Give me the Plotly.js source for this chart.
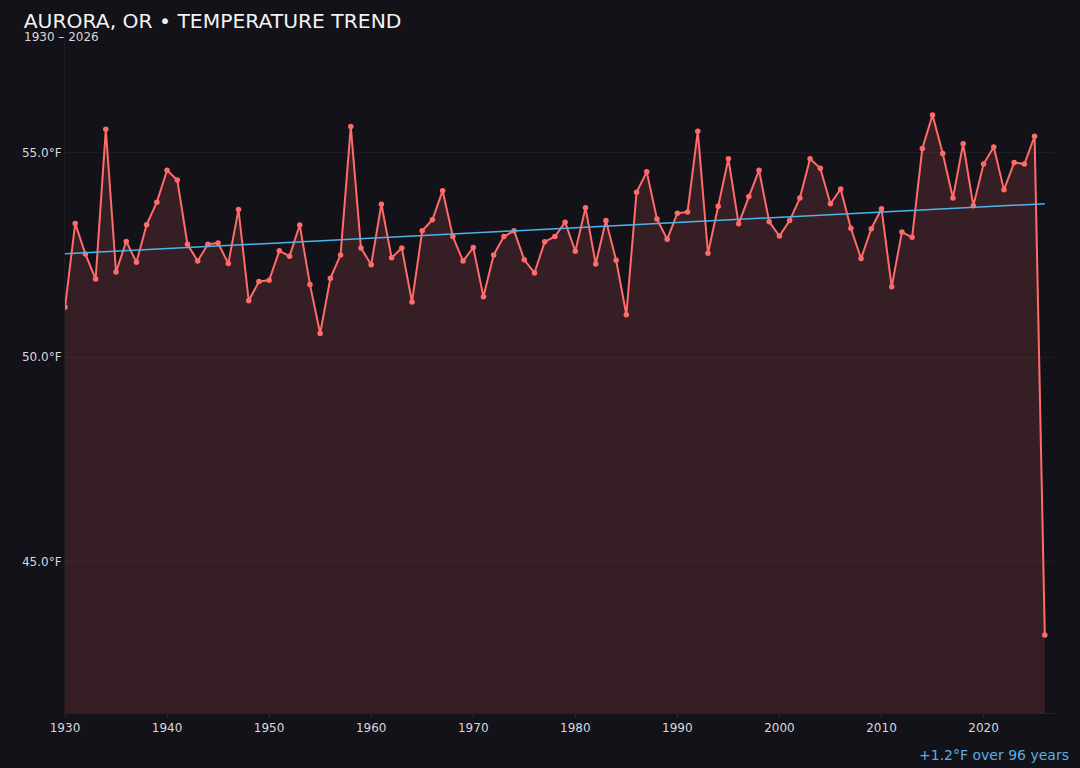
<!DOCTYPE html>
<html>
<head>
<meta charset="utf-8">
<script src="https://cdn.plot.ly/plotly-3.0.1.min.js"></script>
<style>
  html, body { margin: 0; padding: 0; background: #131218; }
  #chart { width: 1080px; height: 768px; }
</style>
</head>
<body>
<div id="chart"></div>
<script>
var years = [];
for (var yr = 1930; yr <= 2026; yr++) years.push(yr);

var temps = [
  51.22, 53.27, 52.52, 51.91, 55.57, 52.08, 52.83, 52.32, 53.24, 53.79,
  54.57, 54.33, 52.76, 52.35, 52.76, 52.79, 52.29, 53.61, 51.38, 51.85,
  51.88, 52.60, 52.47, 53.23, 51.78, 50.58, 51.93, 52.50, 55.64, 52.67,
  52.26, 53.74, 52.43, 52.67, 51.35, 53.09, 53.36, 54.07, 52.95, 52.35,
  52.68, 51.48, 52.50, 52.95, 53.09, 52.38, 52.06, 52.82, 52.95, 53.30,
  52.59, 53.65, 52.28, 53.34, 52.37, 51.04, 54.03, 54.53, 53.38, 52.88,
  53.52, 53.55, 55.52, 52.54, 53.69, 54.85, 53.26, 53.93, 54.57, 53.31,
  52.96, 53.34, 53.89, 54.85, 54.62, 53.75, 54.11, 53.15, 52.41, 53.14,
  53.63, 51.72, 53.06, 52.93, 55.10, 55.92, 54.98, 53.89, 55.22, 53.70,
  54.72, 55.14, 54.09, 54.76, 54.72, 55.40, 43.21
];

var yTicks = [45, 50, 55];
var yTickText = ['45.0°F', '50.0°F', '55.0°F'];
var xTicks = [1930, 1940, 1950, 1960, 1970, 1980, 1990, 2000, 2010, 2020];

// least squares trend
function trendLine(xs, ys) {
  var n = xs.length, sx = 0, sy = 0, sxy = 0, sxx = 0;
  for (var i = 0; i < n; i++) {
    sx += xs[i]; sy += ys[i]; sxy += xs[i] * ys[i]; sxx += xs[i] * xs[i];
  }
  var slope = (n * sxy - sx * sy) / (n * sxx - sx * sx);
  var icpt = (sy - slope * sx) / n;
  return [xs[0], xs[n - 1]].map(function (x) { return slope * x + icpt; });
}
var trendX = [years[0], years[years.length - 1]];
var trendY = trendLine(years, temps);

var lo = Math.min.apply(null, temps), hi = Math.max.apply(null, temps);
var pad = (hi - lo) * 0.15;

var data = [
  {
    x: years,
    y: temps,
    type: 'scatter',
    mode: 'lines+markers',
    fill: 'tozeroy',
    fillcolor: 'rgba(255,107,107,0.15)',
    line: { color: '#ff6b6b', width: 2 },
    marker: { color: '#ff6b6b', size: 5.5 },
    hoverinfo: 'x+y'
  },
  {
    x: trendX,
    y: trendY,
    type: 'scatter',
    mode: 'lines',
    line: { color: '#4fb3ea', width: 1.5 },
    hoverinfo: 'skip'
  }
];

var layout = {
  width: 1080,
  height: 768,
  paper_bgcolor: '#131218',
  plot_bgcolor: '#131218',
  showlegend: false,
  font: { family: 'DejaVu Sans', color: '#d8d8dc', size: 12 },
  margin: { l: 65, r: 25, t: 37, b: 55, pad: 0 },
  title: {
    text: 'AURORA, OR • TEMPERATURE TREND',
    font: { family: 'DejaVu Sans', size: 20.3, color: '#f2f2f5' },
    x: 0.022,
    xanchor: 'left',
    y: 0.973,
    yanchor: 'middle'
  },
  xaxis: {
    range: [1930, 2027],
    tickvals: xTicks,
    ticks: 'outside',
    ticklen: 4,
    tickcolor: '#2a2a32',
    showgrid: false,
    zeroline: false,
    showline: true,
    linecolor: '#25242c',
    linewidth: 1,
    tickfont: { size: 12, color: '#d8d8dc' }
  },
  yaxis: {
    range: [lo - pad, hi + pad],
    tickvals: yTicks,
    ticktext: yTickText,
    showgrid: true,
    gridcolor: '#1e1c22',
    zeroline: false,
    showline: true,
    linecolor: '#1e1d24',
    linewidth: 1,
    tickfont: { size: 12, color: '#d8d8dc' }
  },
  annotations: [
    {
      xref: 'paper', yref: 'paper',
      x: -0.0437, y: 1.0005,
      xanchor: 'left', yanchor: 'middle',
      text: '1930 – 2026',
      showarrow: false,
      font: { size: 12, color: '#d8d8dc' }
    },
    {
      xref: 'paper', yref: 'paper',
      x: 1.016, y: -0.062,
      xanchor: 'right', yanchor: 'middle',
      text: '+1.2°F over 96 years',
      showarrow: false,
      font: { size: 14, color: '#5aaee2' }
    }
  ]
};

Plotly.newPlot('chart', data, layout, { displayModeBar: false });
</script>
</body>
</html>
